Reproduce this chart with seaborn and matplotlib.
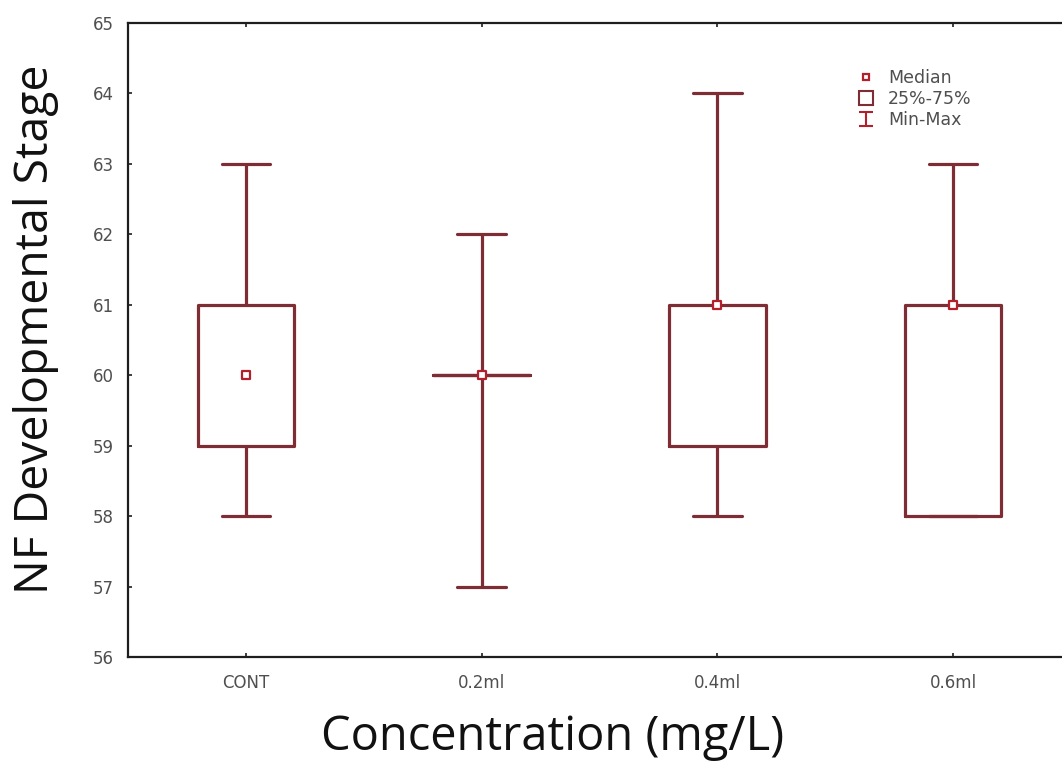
import matplotlib
matplotlib.use("Agg")
import matplotlib.pyplot as plt
from matplotlib.lines import Line2D
from matplotlib.path import Path
import seaborn as sns
import pandas as pd

# ---- data ----
categories = ["CONT", "0.2ml", "0.4ml", "0.6ml"]
mins = [58, 57, 58, 58]
q1s = [59, 60, 59, 58]
medians = [60, 60, 61, 61]
q3s = [61, 60, 61, 61]
maxs = [63, 62, 64, 63]
yticks = [56, 57, 58, 59, 60, 61, 62, 63, 64, 65]
legend_labels = ["Median", "25%-75%", "Min-Max"]
xlabel_text = "Concentration (mg/L)"
ylabel_text = "NF Developmental Stage"

# five-number summaries -> 5 values per group; with whis=(0,100)
# numpy percentiles reproduce min / Q1 / median / Q3 / max exactly
rows = []
for c, a, b, m, d, e in zip(categories, mins, q1s, medians, q3s, maxs):
    for v in (a, b, m, d, e):
        rows.append({"group": c, "value": v})
df = pd.DataFrame(rows)
med_df = pd.DataFrame({"group": categories, "value": medians})

sns.set_theme(style="ticks")
plt.rcParams["font.family"] = ["DejaVu Sans"]

LINE = "#7d2d33"
RED = "#b3202c"
TICKTXT = "#4f4f4f"

fig = plt.figure(figsize=(10.62, 7.62), dpi=100)
W, H = 1062, 762
ax = fig.add_axes([128 / W, 105 / H, 943 / W, 634 / H])

sns.boxplot(data=df, x="group", y="value", order=categories, whis=(0, 100),
            width=0.41, fill=False, color=LINE, linewidth=2.3,
            boxprops={"color": LINE, "linewidth": 2.3},
            whiskerprops={"color": LINE, "linewidth": 2.3},
            capprops={"color": LINE, "linewidth": 2.3},
            medianprops={"visible": False},
            showfliers=False, ax=ax)

sns.stripplot(data=med_df, x="group", y="value", order=categories, jitter=False,
              marker="s", size=5.5, color="white", edgecolor=RED, linewidth=1.6,
              zorder=6, ax=ax)

ax.set_xlim(-0.5, 3.5)
ax.set_ylim(56, 65)
ax.set_yticks(yticks)
ax.set_yticklabels([str(t) for t in yticks])
ax.set_xlabel("")
ax.set_ylabel("")

for side in ["left", "bottom", "top"]:
    ax.spines[side].set_visible(True)
    ax.spines[side].set_color("#1e1e1e")
    ax.spines[side].set_linewidth(1.6)
ax.spines["right"].set_visible(False)

ax.tick_params(axis="both", direction="in", length=3, width=1.2, color="#1e1e1e",
               labelsize=12, labelcolor=TICKTXT)
ax.tick_params(axis="y", pad=10, right=False)
ax.tick_params(axis="x", pad=12, top=True, labeltop=False)

# legend
whisker_marker = Path([(-0.9, -1), (0.9, -1), (0, -1), (0, 1), (-0.9, 1), (0.9, 1)],
                      [Path.MOVETO, Path.LINETO, Path.MOVETO, Path.LINETO,
                       Path.MOVETO, Path.LINETO])
handles = [
    Line2D([], [], linestyle="none", marker="s", markersize=5,
           markerfacecolor="white", markeredgecolor=RED, markeredgewidth=1.6),
    Line2D([], [], linestyle="none", marker="s", markersize=10.5,
           markerfacecolor="white", markeredgecolor=LINE, markeredgewidth=1.5),
    Line2D([], [], linestyle="none", marker=whisker_marker, markersize=10.5,
           markerfacecolor="none", markeredgecolor=RED, markeredgewidth=1.5),
]
leg = fig.legend(handles, legend_labels, loc="upper left",
                 bbox_to_anchor=(850 / W, 1 - 60 / H), frameon=False,
                 fontsize=12.5, handlelength=0.8, handletextpad=0.9,
                 labelspacing=0.17, borderpad=0)
for t in leg.get_texts():
    t.set_color(TICKTXT)

# axis titles
lab_font = ["Open Sans", "DejaVu Sans"]
xl = fig.text(553 / W, 1 - 737 / H, xlabel_text, ha="center", va="center",
              fontsize=30, family=lab_font, color="#111111")
yl = fig.text(36 / W, 1 - 329 / H, ylabel_text, ha="center", va="center",
              rotation=90, fontsize=30, family=lab_font, color="#111111")

# fit label sizes to the reference extents
fig.canvas.draw()
r = fig.canvas.get_renderer()
wx = xl.get_window_extent(r).width
xl.set_fontsize(30 * 463 / wx)
hy = yl.get_window_extent(r).height
yl.set_fontsize(30 * 528 / hy)

fig.savefig("out.png", dpi=100, facecolor="white")
